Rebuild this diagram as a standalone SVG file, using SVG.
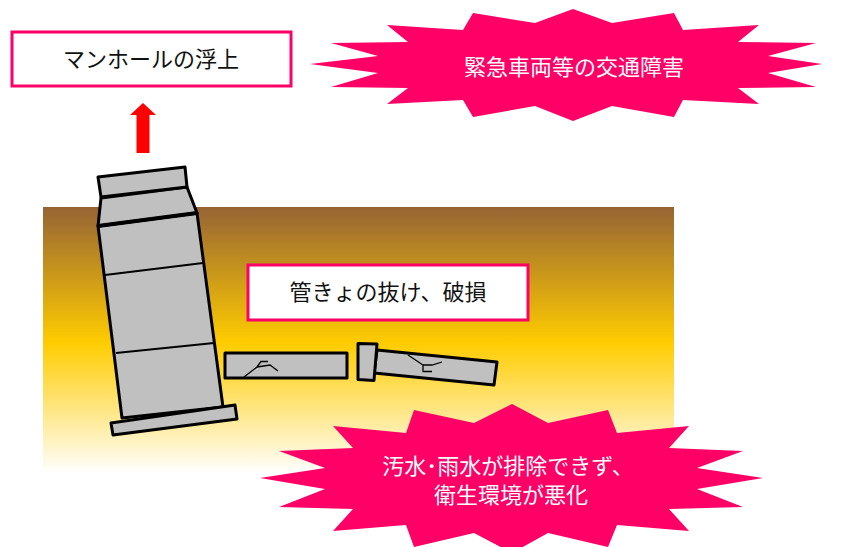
<svg xmlns="http://www.w3.org/2000/svg" width="854" height="547" viewBox="0 0 854 547">
  <defs>
    <linearGradient id="soil" x1="0" y1="0" x2="0" y2="1">
      <stop offset="0" stop-color="#966434"/>
      <stop offset="0.51" stop-color="#ffcc00"/>
      <stop offset="1" stop-color="#ffffff"/>
    </linearGradient>
    <style>
      .label-box { fill: #ffffff; stroke: #ff0066; stroke-width: 3; }
      .label { font-family: "Noto Sans CJK JP", "Noto Sans", sans-serif; font-size: 22px; fill: #111111; text-anchor: middle; }
      .burst { fill: #ff0066; }
      .burst-text { font-family: "Noto Sans CJK JP", "Noto Sans", sans-serif; font-size: 22px; fill: #ffffff; text-anchor: middle; }
      .part { fill: #c0c0c0; stroke: #000000; stroke-width: 3; stroke-linejoin: round; }
      .seam { fill: none; stroke: #000000; stroke-width: 2; }
      .crack { fill: none; stroke: #000000; stroke-width: 1.3; }
    </style>
  </defs>

  <rect width="854" height="547" fill="#ffffff"/>

  <!-- ground -->
  <rect id="ground" x="43" y="207" width="631" height="266" fill="url(#soil)"/>

  <!-- tilted manhole -->
  <g id="manhole">
    <polygon class="part" points="98,226 197,213 223,407 122,418"/>
    <line class="seam" x1="105" y1="275" x2="203" y2="263"/>
    <line class="seam" x1="116" y1="353" x2="214" y2="343"/>
    <polygon class="part" points="101,198 187,187 197,213 98,226"/>
    <line x1="98" y1="226" x2="197" y2="213" stroke="#000000" stroke-width="4"/>
    <polygon class="part" points="98,177 185,167 187,187 101,197"/>
    <polygon class="part" points="111,423 235,405 237,419 113,435"/>
  </g>

  <!-- broken pipes -->
  <g id="pipe-left">
    <rect class="part" x="225" y="353" width="122" height="25"/>
    <polyline class="crack" points="244,377 257,367 261,361.5 268,361.5"/>
    <polyline class="crack" points="257,367 270,365 278,371"/>
  </g>
  <g id="pipe-right">
    <polygon class="part" points="377,350 497,362 494,385 374,373"/>
    <polygon class="part" points="358,343.5 377,344 374,380.5 358,379.5"/>
    <polyline class="crack" points="408,355 423,365 423,371.5 432,371.5"/>
    <polyline class="crack" points="423,365 432,365 442,362"/>
  </g>

  <!-- connectors -->
  <g id="connectors">
    <polygon fill="#ff0000" points="143,103 156,115 149.5,115 149.5,153 136.5,153 136.5,115 130,115"/>
  </g>

  <!-- labels -->
  <g id="manhole-uplift">
    <rect class="label-box" x="12" y="32" width="279" height="54"/>
    <text class="label" x="151" y="67">マンホールの浮上</text>
  </g>

  <g id="pipe-damage">
    <rect class="label-box" x="248" y="265" width="280" height="55"/>
    <text class="label" x="388" y="300">管きょの抜け、破損</text>
  </g>

  <g id="traffic-obstruction">
    <polygon class="burst" points="573,9 612,23 674,13 683,30 759,25 738,42 816,43 768,56 822,64 768,73 816,87 738,88 759,104 683,100 674,117 612,106 573,121 535,106 473,117 463,100 387,104 408,88 331,87 378,73 310,64 378,56 331,43 408,42 387,25 463,30 473,13 535,23"/>
    <text class="burst-text" x="574" y="75">緊急車両等の交通障害</text>
  </g>

  <g id="sanitation">
    <polygon class="burst" points="512,404 548,423 608,410 617,433 689,426 669,448 743,451 697,468 763,478 697,489 743,507 669,509 689,531 617,525 608,547 548,533 512,553 474,533 414,547 406,525 333,531 353,509 279,507 325,489 260,478 325,468 279,451 353,448 333,426 406,433 414,410 474,423"/>
    <text class="burst-text" x="508" y="474">汚水･雨水が排除できず、</text>
    <text class="burst-text" x="511" y="503">衛生環境が悪化</text>
  </g>
</svg>
